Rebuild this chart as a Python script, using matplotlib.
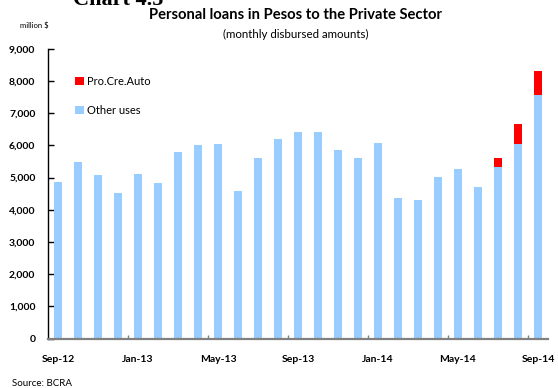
import numpy as np
import matplotlib.pyplot as plt

months = ['Sep-12', 'Oct-12', 'Nov-12', 'Dec-12', 'Jan-13', 'Feb-13', 'Mar-13',
          'Apr-13', 'May-13', 'Jun-13', 'Jul-13', 'Aug-13', 'Sep-13', 'Oct-13',
          'Nov-13', 'Dec-13', 'Jan-14', 'Feb-14', 'Mar-14', 'Apr-14', 'May-14',
          'Jun-14', 'Jul-14', 'Aug-14', 'Sep-14']
# million $
other_uses = [4870, 5480, 5090, 4520, 5120, 4840, 5800, 6020, 6040, 4590, 5620,
              6210, 6420, 6420, 5860, 5610, 6070, 4370, 4300, 5020, 5270, 4710,
              5330, 6040, 7560]
procreauto = [0, 0, 0, 0, 0, 0, 0, 0, 0, 0, 0, 0, 0, 0, 0, 0, 0, 0, 0, 0, 0, 0,
              280, 620, 750]

plt.rcParams['font.family'] = ['Lato', 'DejaVu Sans']

fig = plt.figure(figsize=(5.58, 3.88), dpi=100)
ax = fig.add_axes([0.086, 0.127, 0.896, 0.7475])

x = np.arange(len(months))
ax.bar(x, other_uses, width=0.4, color='#99ccff', label='Other uses', zorder=2)
ax.bar(x, procreauto, width=0.4, bottom=other_uses, color='#ff0000',
       label='Pro.Cre.Auto', zorder=2)

ax.set_xlim(-0.5, len(months) - 0.5)
ax.set_ylim(0, 9000)
ax.set_yticks(np.arange(0, 9001, 1000))
ax.set_yticklabels([f'{v:,}' for v in range(0, 9001, 1000)],
                   fontsize=7.5, fontweight='bold')
ax.tick_params(axis='y', direction='in', length=4, width=1, pad=9)

# labels on every 4th month, tick marks between categories
ax.set_xticks(x[::4])
ax.set_xticklabels(months[::4], fontsize=7.5, fontweight='bold')
ax.tick_params(axis='x', which='major', length=0, pad=12)
ax.set_xticks(np.arange(3.5, len(months) - 1, 4), minor=True)
ax.tick_params(axis='x', which='minor', direction='in', length=3,
               width=1, color='#808080')

for s in ['top', 'right']:
    ax.spines[s].set_visible(False)
ax.spines['left'].set_color('black')
ax.spines['left'].set_linewidth(1)
ax.spines['bottom'].set_color('#808080')
ax.spines['bottom'].set_linewidth(1.6)
ax.spines['bottom'].set_zorder(3)

handles, labels = ax.get_legend_handles_labels()
ax.legend(handles[::-1], labels[::-1], loc='upper left',
          bbox_to_anchor=(0.045, 0.922), frameon=False, fontsize=8,
          handlelength=0.8, handleheight=0.8, handletextpad=0.3,
          labelspacing=1.65, borderaxespad=0)

fig.text(0.13, 1 - 5 / 388, 'Chart 4.5', family='Liberation Serif',
         fontweight='bold', fontsize=16, va='baseline')
fig.text(0.53, 1 - 15 / 388, 'Personal loans in Pesos to the Private Sector',
         fontsize=10.6, fontweight='bold', ha='center', va='center')
fig.text(0.53, 1 - 34 / 388, '(monthly disbursed amounts)', fontsize=8.3,
         ha='center', va='center')
fig.text(0.036, 1 - 25 / 388, 'million $', fontsize=5.5, va='center')
fig.text(0.021, 1 - 383 / 388, 'Source: BCRA', fontsize=7, va='center')

fig.savefig('out.png', dpi=100)
